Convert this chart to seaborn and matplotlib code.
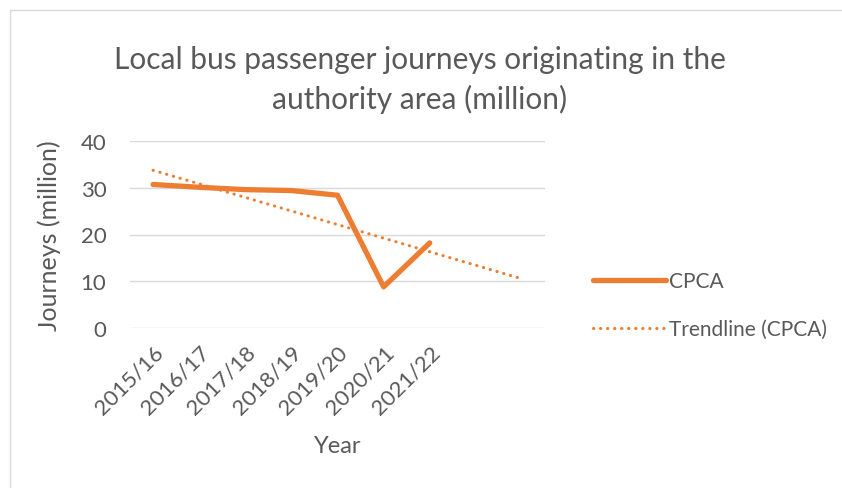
import numpy as np
import pandas as pd
import matplotlib
matplotlib.use("Agg")
import matplotlib.pyplot as plt
from matplotlib.lines import Line2D
import seaborn as sns

# Data
years = ["2015/16", "2016/17", "2017/18", "2018/19", "2019/20", "2020/21", "2021/22"]
journeys = [30.7, 30.1, 29.6, 29.4, 28.4, 8.8, 18.2]
n_forecast = 2  # trendline extends two periods forward

ORANGE = "#ED7D31"
TEXT = "#595959"
GRID = "#D9D9D9"


def make_chart():
    sns.set_style("white")
    plt.rcParams["font.family"] = ["Lato", "DejaVu Sans"]
    plt.rcParams["text.color"] = TEXT

    df = pd.DataFrame({"idx": np.arange(len(years)), "year": years, "journeys": journeys})

    # linear trendline as Excel does it, extended forward
    slope, intercept = np.polyfit(df["idx"], df["journeys"], 1)
    trend = pd.DataFrame({"idx": np.arange(len(years) + n_forecast)})
    trend["journeys"] = intercept + slope * trend["idx"]

    fig = plt.figure(figsize=(8.42, 4.89), dpi=100)
    ax = fig.add_axes([130 / 842, 1 - 329 / 489, 415 / 842, (329 - 142) / 489])

    sns.lineplot(data=df, x="idx", y="journeys", ax=ax, color=ORANGE,
                 linewidth=3.8, solid_capstyle="round", label="CPCA")
    sns.lineplot(data=trend, x="idx", y="journeys", ax=ax, color=ORANGE,
                 linewidth=2.2, linestyle=(0, (0.1, 2.2)), dash_capstyle="round",
                 label="Trendline (CPCA)")

    ax.set_xlim(-0.5, len(years) + n_forecast - 0.5)
    ax.set_ylim(0, 40)
    ax.set_yticks(range(0, 41, 10))
    ax.set_xticks(df["idx"])
    ax.set_xticklabels(years, rotation=45, ha="right", rotation_mode="anchor")
    ax.tick_params(axis="both", length=0, labelsize=16, labelcolor=TEXT)
    ax.tick_params(axis="y", pad=17)
    ax.tick_params(axis="x", pad=10)
    ax.grid(axis="y", color=GRID, linewidth=1)
    ax.set_axisbelow(True)
    for s in ax.spines.values():
        s.set_visible(False)

    ax.set_xlabel("Year", fontsize=17, color=TEXT, labelpad=12)
    ax.set_ylabel("Journeys (million)", fontsize=18, color=TEXT, labelpad=14)

    fig.suptitle("Local bus passenger journeys originating in the\nauthority area (million)",
                 x=420 / 842, y=1 - 46 / 489, fontsize=21.5, color=TEXT, linespacing=1.45)

    ax.legend(loc="center left", bbox_to_anchor=(583 / 842, 1 - 306 / 489),
              bbox_transform=fig.transFigure, frameon=False, fontsize=15,
              handlelength=3.5, handletextpad=0.15, labelspacing=1.35, borderpad=0)
    for t in ax.get_legend().get_texts():
        t.set_color(TEXT)

    # chart frame (only left and top edges visible in the reference)
    fig.add_artist(Line2D([10 / 842, 10 / 842], [0, 1 - 11 / 489], color=GRID, linewidth=1))
    fig.add_artist(Line2D([10 / 842, 1], [1 - 11 / 489, 1 - 11 / 489], color=GRID, linewidth=1))

    fig.savefig("out.png", dpi=100)
    plt.close(fig)


if __name__ == "__main__":
    make_chart()
